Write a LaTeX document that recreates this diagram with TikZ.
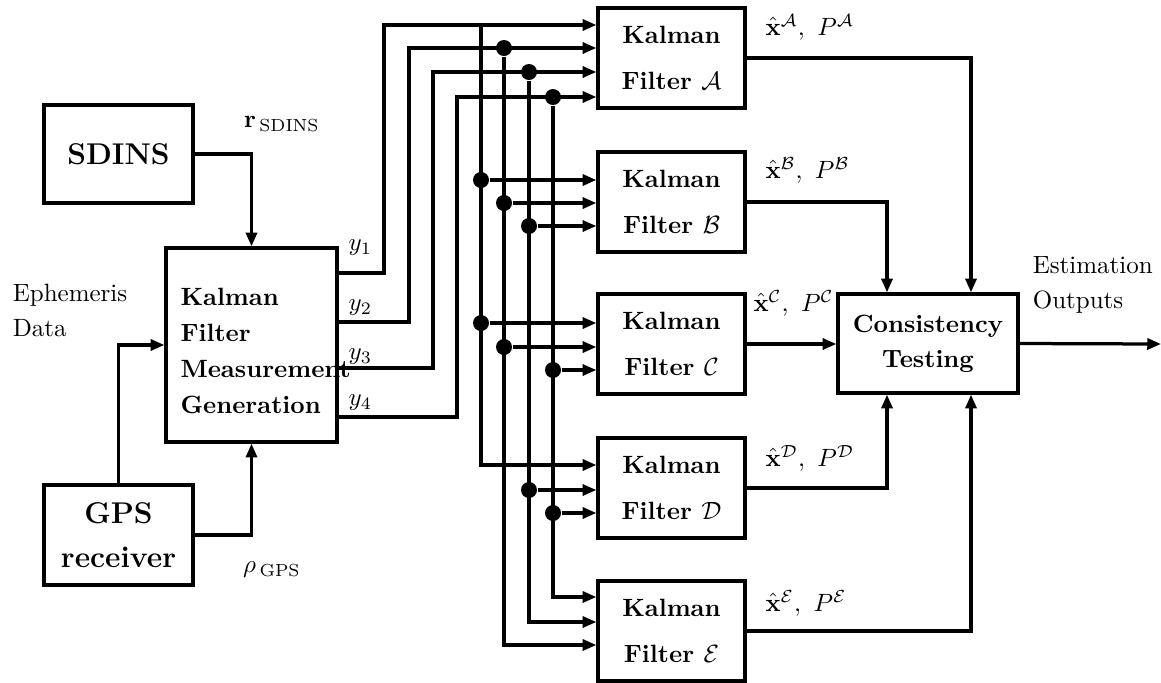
\documentclass[tikz,border=0pt]{standalone}
\usetikzlibrary{arrows.meta,positioning}
\begin{document}
\begin{tikzpicture}[x=0.4pt,y=-0.4pt,
  blk/.style={draw,line width=1.3pt,inner sep=0pt,font=\bfseries,align=center},
  wire/.style={line width=1.3pt},
  arr/.style={wire,-{Triangle[length=5.5pt,width=4.4pt]}},
  dot/.style={circle,fill,inner sep=0pt,minimum size=6.4pt}]
\useasboundingbox (0,0) rectangle (1161,682);
\node[blk,font=\large\bfseries,minimum width=59.6pt,minimum height=39.2pt] (sdins) at (118.5,154) {SDINS};
\node[blk,minimum width=68.4pt,minimum height=77.6pt] (kfmg) at (251.5,345) {};
\node[anchor=west,align=left,inner sep=0pt,font=\bfseries] (kfmgtxt) at (180,351)
  {Kalman\\[2.3pt]Filter\\[2.3pt]Measurement\\[2.3pt]Generation};
\node[blk,font=\large\bfseries,minimum width=59.6pt,minimum height=40pt] (gps) at (118.5,535) {GPS\\[3.5pt]receiver};
\node[anchor=west,align=left] (ephem) at (4,310) {Ephemeris\\[2pt]Data};
\node (rsd) at (282,124) {$\mathbf{r}_{\,\mathrm{SDINS}}$};
\node (rgps) at (272,570) {$\rho_{\,\mathrm{GPS}}$};
\draw[arr] (sdins.east) -| (kfmg.north);
\draw[arr] (gps.east) -| (kfmg.south);
\draw[arr] (gps.north) |- (kfmg.west);
\foreach \nm/\yc/\ltr in {fA/58/A,fB/202/B,fC/344/C,fD/488/D,fE/631/E}
  \node[blk,minimum width=58.8pt,minimum height=40pt] (\nm) at (671.5,\yc) {Kalman\\[6.4pt]Filter $\mathcal{\ltr}$};
\node[blk,minimum width=72pt,minimum height=39.6pt] (cons) at (928,343.5) {Consistency\\[2pt]Testing};
\foreach \i/\yl in {1/248,2/308,3/357,4/403}
  \node[anchor=west,inner sep=0pt] (ylab\i) at (348,\yl) {$y_{\i}$};
\foreach \i/\yo/\xv/\yt in {1/273/384/25,2/322/409/48,3/368/433/72,4/417/457/97}
  \draw[arr] (kfmg.east |- 0,\yo) -- (\xv,\yo) -- (\xv,\yt) -- (fA.west |- 0,\yt);
\coordinate (t1) at (481,25);
\node[dot] (t2) at (504,48) {};
\node[dot] (t3) at (529,72) {};
\node[dot] (t4) at (553,97) {};
\draw[arr] (t1) |- (fD.west |- 0,465);
\draw[arr] (t2) |- (fE.west |- 0,645);
\draw[arr] (t3) |- (fE.west |- 0,622);
\draw[arr] (t4) |- (fE.west |- 0,597);
\foreach \nm/\xb/\yb/\f in {b1/481/180/fB,b2/504/203/fB,b3/529/226/fB,c1/481/323/fC,c2/504/347/fC,c4/553/370/fC,d3/529/490/fD,d4/553/513/fD}{
  \node[dot] (\nm) at (\xb,\yb) {};
  \draw[arr] (\nm) -- (\f.west |- \nm);
}
\draw[arr] (fA.east) -| ([xshift=17.2pt]cons.north);
\draw[arr] (fB.east) -| ([xshift=-16.4pt]cons.north);
\draw[arr] (fC.east) -- (cons.west |- fC.east);
\draw[arr] (fD.east) -| ([xshift=-16.4pt]cons.south);
\draw[arr] (fE.east) -| ([xshift=17.2pt]cons.south);
\coordinate (out) at (1161,344);
\draw[arr] (cons.east) -- (out);
\foreach \nm/\xl/\yl/\ltr in {fA/765/27/A,fB/765/170/B,fC/753/303/C,fD/765/458/D,fE/765/603/E}
  \node[anchor=west,inner sep=0pt] (l\nm) at (\xl,\yl) {$\hat{\mathbf{x}}^{\mathcal{\ltr}},\ P^{\mathcal{\ltr}}$};
\node[anchor=west,align=left] (estout) at (1024,285) {Estimation\\[2pt]Outputs};
\end{tikzpicture}
\end{document}
